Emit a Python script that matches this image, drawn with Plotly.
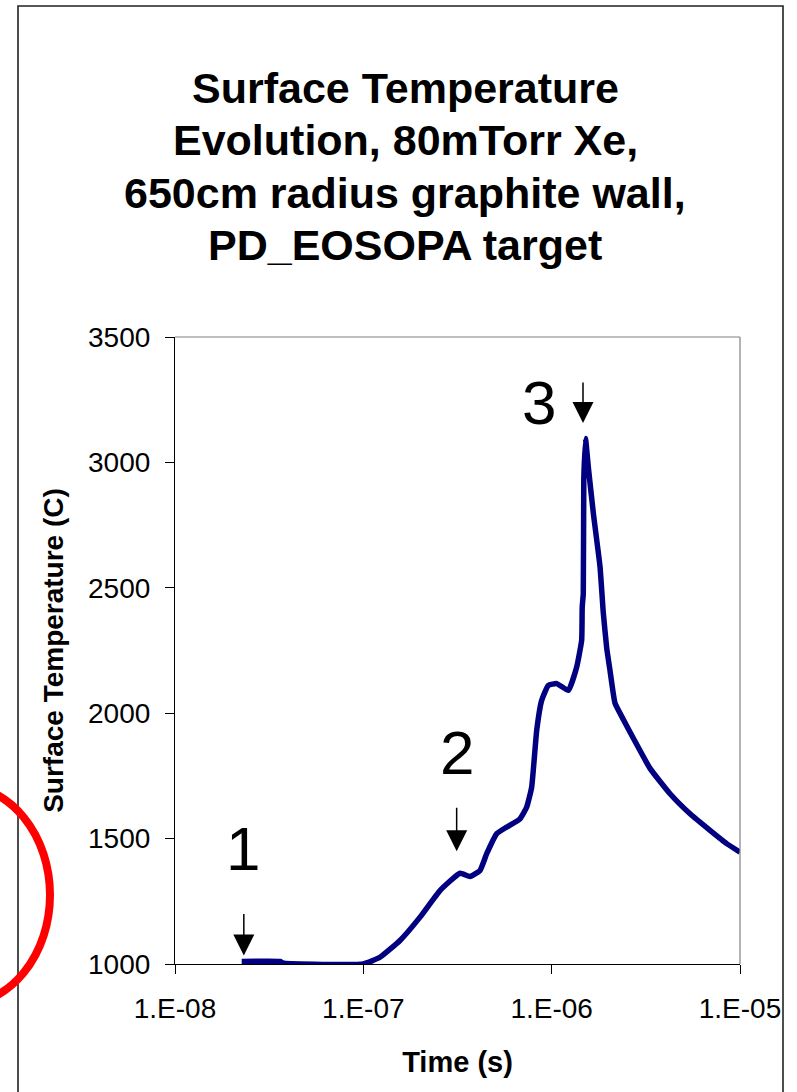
import numpy as np
import plotly.graph_objects as go

# Surface temperature history (time in seconds, temperature in C)
time_s = [2.26e-8, 3.61e-8, 3.79e-8, 1.0e-7, 1.226e-7, 1.566e-7, 2.0e-7, 2.553e-7,
          3.261e-7, 3.684e-7, 4.164e-7, 4.52e-7, 5.11e-7, 5.77e-7, 6.79e-7, 7.37e-7,
          7.83e-7, 8.33e-7, 8.85e-7, 9.60e-7, 1.064e-6, 1.226e-6, 1.358e-6, 1.443e-6,
          1.453e-6, 1.472e-6, 1.481e-6, 1.512e-6, 1.565e-6, 1.664e-6, 1.806e-6,
          1.880e-6, 1.960e-6, 2.041e-6, 2.169e-6, 2.402e-6, 2.714e-6, 3.328e-6,
          4.25e-6, 5.43e-6, 6.93e-6, 8.50e-6, 1.0e-5]
temp_c = [1010, 1010, 1003, 1000, 1027, 1094, 1187, 1293,
          1362, 1349, 1373, 1440, 1520, 1546, 1579, 1626,
          1705, 1932, 2051, 2111, 2118, 2091, 2184, 2291,
          2424, 2477, 2929, 3095, 2982, 2798, 2584,
          2400, 2260, 2170, 2040, 1975, 1900, 1780,
          1679, 1599, 1533, 1480, 1446]

# Marked instants: label, arrow tip (time, temperature), label centre (time, temperature)
marker_labels = ["1", "2", "3"]
marker_tip_t = [2.32e-8, 3.13e-7, 1.467e-6]
marker_tip_T = [1034, 1450, 3157]
marker_tail_px = [-43, -45, -42]
label_t = [2.29e-8, 3.14e-7, 8.57e-7]
label_T = [1460, 1845, 3240]

x_ticks = [1e-8, 1e-7, 1e-6, 1e-5]
x_ticktext = ["1.E-08", "1.E-07", "1.E-06", "1.E-05"]
y_ticks = [1000, 1500, 2000, 2500, 3000, 3500]

title_lines = ["Surface Temperature", "Evolution, 80mTorr Xe,",
               "650cm radius graphite wall,", "PD_EOSOPA target"]

W, H = 797, 1092
L, R, T, B = 175, 57, 337, 128
PW, PH = W - L - R, H - T - B


def px(xp):
    return (xp - L) / PW


def py(yp):
    return (H - B - yp) / PH


FONT = "Arial, Liberation Sans, sans-serif"

fig = go.Figure()
fig.add_trace(go.Scatter(
    x=time_s, y=temp_c, mode="lines",
    line=dict(color="#000080", width=5.5, shape="spline", smoothing=0.4),
    hoverinfo="skip", showlegend=False,
))

annotations = []
for i, line in enumerate(title_lines):
    annotations.append(dict(
        x=px(405), y=py(88 + 52.3 * i), xref="paper", yref="paper",
        text="<b>%s</b>" % line, showarrow=False,
        font=dict(family=FONT, size=43, color="black"),
        xanchor="center", yanchor="middle",
    ))
for lab, tt, TT, ay in zip(marker_labels, marker_tip_t, marker_tip_T, marker_tail_px):
    annotations.append(dict(
        x=np.log10(tt), y=TT, xref="x", yref="y", text="",
        showarrow=True, arrowhead=2, arrowwidth=1.5, arrowsize=2.8,
        arrowcolor="black", ax=0, ay=ay,
    ))
for lab, tt, TT in zip(marker_labels, label_t, label_T):
    annotations.append(dict(
        x=np.log10(tt), y=TT, xref="x", yref="y", text=lab, showarrow=False,
        font=dict(family=FONT, size=62, color="black"),
        xanchor="center", yanchor="middle",
    ))

shapes = [
    # outer frame
    dict(type="rect", xref="paper", yref="paper",
         x0=px(18), x1=px(783), y0=py(1120), y1=py(6),
         line=dict(color="#222222", width=1.6), layer="above"),
    # plot-area top and right edges
    dict(type="line", xref="paper", yref="paper", x0=0, x1=1, y0=1, y1=1,
         line=dict(color="#808080", width=1.2)),
    dict(type="line", xref="paper", yref="paper", x0=1, x1=1, y0=0, y1=1,
         line=dict(color="#808080", width=1.2)),
    # red ellipse at the left edge
    dict(type="circle", xref="paper", yref="paper",
         x0=px(-130), x1=px(50), y0=py(1005), y1=py(785),
         line=dict(color="#FF0000", width=8), layer="above"),
]

fig.update_layout(
    width=W, height=H,
    margin=dict(l=L, r=R, t=T, b=B, autoexpand=False),
    paper_bgcolor="white", plot_bgcolor="white",
    font=dict(family=FONT, color="black"),
    xaxis=dict(
        type="log", range=[-8, -5],
        tickvals=x_ticks, ticktext=x_ticktext,
        ticks="outside", ticklen=9, tickwidth=1.2, tickcolor="black",
        ticklabelstandoff=10,
        showline=True, linecolor="black", linewidth=1.2,
        showgrid=False, zeroline=False,
        tickfont=dict(family=FONT, size=28, color="black"),
        title=dict(text="<b>Time (s)</b>", font=dict(family=FONT, size=29, color="black"),
                   standoff=28),
    ),
    yaxis=dict(
        range=[1000, 3500], tickvals=y_ticks,
        ticks="outside", ticklen=9, tickwidth=1.2, tickcolor="black",
        ticklabelstandoff=9,
        showline=True, linecolor="black", linewidth=1.2,
        showgrid=False, zeroline=False,
        tickfont=dict(family=FONT, size=28, color="black"),
        title=dict(text="<b>Surface Temperature (C)</b>",
                   font=dict(family=FONT, size=28, color="black"), standoff=16),
    ),
    annotations=annotations,
    shapes=shapes,
)

fig.write_html("out.html")
